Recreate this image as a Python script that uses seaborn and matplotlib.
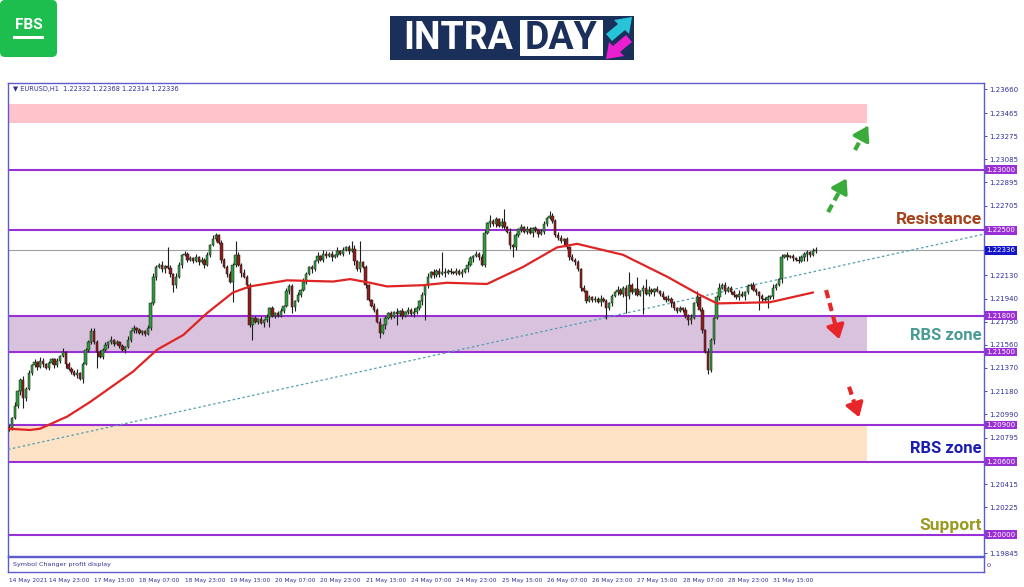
import numpy as np
import pandas as pd
import matplotlib
matplotlib.use("Agg")
import matplotlib.pyplot as plt
import seaborn as sns
from matplotlib.patches import FancyBboxPatch, Rectangle, Polygon

# EURUSD H1 closes, in pips above 1.2000 (one value per bar)
close_pips = [
    88, 96, 106, 118, 127, 112, 120, 133, 139, 142, 138, 143, 140, 137, 141, 144,
    139, 143, 147, 150, 140, 136, 134, 131, 133, 128, 140, 152, 158, 167, 158, 150,
    146, 152, 156, 158, 160, 157, 158, 155, 152, 154, 160, 167, 170, 168, 166, 167,
    165, 170, 190, 212, 220, 222, 218, 221, 219, 214, 205, 212, 222, 230, 231, 226,
    227, 225, 228, 224, 226, 222, 230, 238, 243, 246, 240, 226, 220, 214, 208, 222,
    230, 222, 215, 212, 205, 172, 178, 175, 177, 174, 176, 179, 186, 180, 182, 180,
    184, 188, 200, 204, 187, 192, 197, 201, 208, 214, 220, 218, 225, 229, 226, 231,
    229, 231, 228, 230, 233, 231, 234, 236, 233, 235, 225, 218, 224, 220, 205, 193,
    188, 185, 175, 166, 172, 178, 182, 179, 183, 181, 184, 180, 183, 185, 181, 183,
    186, 192, 197, 205, 212, 216, 213, 217, 214, 216, 215, 217, 216, 215, 217,
    214, 216, 218, 222, 227, 229, 231, 228, 222, 248, 256, 258, 255, 259, 254, 257,
    253, 249, 238, 236, 246, 251, 253, 249, 251, 248, 252, 250, 247, 249, 255, 260,
    262, 258, 246, 244, 241, 243, 236, 228, 226, 224, 218, 203, 200, 192, 195, 193,
    194, 191, 194, 192, 186, 190, 196, 199, 201, 198, 203, 196, 205, 199, 202, 197,
    200, 203, 198, 201, 199, 202, 200, 198, 195, 193, 194, 190, 186, 184, 186, 185,
    180, 176, 178, 190, 195, 185, 168, 150, 135, 160, 178, 195, 203, 205, 200, 203,
    199, 197, 195, 198, 196, 199, 204, 205, 201, 199, 196, 194, 193, 195, 196, 203,
    205, 210, 228, 230, 228, 229, 227, 226, 225, 228, 231, 232, 230, 233.2, 233.6,
]
first_open_pips = 86

# ordinary wick lengths in pips (one digit per bar)
wick_hi = "".join([
    "2131231212132121", "1213122131212132", "2121312121312121", "1213213123132121",
    "2131212132121231", "1213121213121212", "2131212132121313", "2121312121312121",
    "1213121213121213", "212131212131212", "1213212132121213", "2131212132121231",
    "1213212131212121", "2131212132121213", "1213212121312121", "2131212132121231",
    "1213212132121213", "213121213212123",
])
wick_lo = "".join([
    "1212312121312121", "2121312121312112", "1213121213121212", "2121312312121312",
    "1212131212131212", "2131212121312121", "1212131212131212", "2131212121312121",
    "1212131212131212", "213121212131212", "1212131212131212", "2131212121312121",
    "1212131212131212", "2131212121312121", "1212131212131212", "2131212121312121",
    "1212131212131212", "213121212131212",
])

# long shadows (bar index -> extreme, pips above 1.2000)
spike_hi = {29: 170, 56: 236, 73: 248, 80: 241, 99: 206, 121: 241, 124: 241,
            153: 232, 170: 263, 175: 268, 191: 266, 219: 216, 222: 212,
            225: 210, 243: 200, 251: 207, 262: 207, 285: 236.8}
spike_lo = {0: 85, 5: 104, 31: 137, 58: 199, 79: 191, 86: 160, 92: 171,
            100: 182, 131: 162, 137: 172, 147: 176, 178: 228, 211: 177,
            218: 182, 224: 181, 240: 172, 247: 132, 265: 185, 268: 186,
            279: 225, 282: 225, 285: 231.4}

# red moving average, read at bar positions
ma_idx = [-0.4, 7.4, 10.9, 20.5, 28.6, 43.8, 52.3, 61.5, 69.9, 79.1, 85.1, 98.2,
          114.5, 120.5, 127.5, 133.5, 146.3, 154.7, 168.9, 181.6, 193.6, 200.7,
          216.9, 232.5, 244.1, 250.2, 268.9, 284.1]
ma_val = [1.2087, 1.2086, 1.2087, 1.2097, 1.2109, 1.2134, 1.2152, 1.2164, 1.2182,
          1.2199, 1.2204, 1.2209, 1.2208, 1.2210, 1.2207, 1.2204, 1.2205, 1.2207,
          1.2206, 1.2220, 1.2236, 1.2239, 1.2230, 1.2212, 1.2197, 1.2190, 1.2191,
          1.2199]

# dotted trend line
trend_idx = [-0.4, 344.5]
trend_val = [1.2070, 1.2247]

time_idx = [0] + list(range(14, 271, 16))
time_labels = ["14 May 2021", "14 May 23:00", "17 May 15:00", "18 May 07:00",
               "18 May 23:00", "19 May 15:00", "20 May 07:00", "20 May 23:00",
               "21 May 15:00", "24 May 07:00", "24 May 23:00", "25 May 15:00",
               "26 May 07:00", "26 May 23:00", "27 May 15:00", "28 May 07:00",
               "28 May 23:00", "31 May 15:00"]

price_ticks = [1.23660, 1.23465, 1.23275, 1.23085, 1.22895, 1.22705, 1.22130,
               1.21940, 1.21750, 1.21560, 1.21370, 1.21180, 1.20990, 1.20795,
               1.20415, 1.20225, 1.19845]
levels = [1.23000, 1.22500, 1.21800, 1.21500, 1.20900, 1.20600, 1.20000]
last_price = 1.22336

zone_lo = [1.23385, 1.21500, 1.20600]
zone_hi = [1.23540, 1.21800, 1.20900]
zone_colors = ["#ffc3cc", "#d9c2dd", "#fde2c6"]

# ---------------------------------------------------------------
close = 1.2 + np.array(close_pips) / 1e4
opn = np.r_[1.2 + first_open_pips / 1e4, close[:-1]]
high = np.maximum(opn, close) + np.array([int(c) for c in wick_hi]) / 1e4
low = np.minimum(opn, close) - np.array([int(c) for c in wick_lo]) / 1e4
for i, v in spike_hi.items():
    high[i] = max(high[i], 1.2 + v / 1e4)
for i, v in spike_lo.items():
    low[i] = min(low[i], 1.2 + v / 1e4)
df = pd.DataFrame({"open": opn, "high": high, "low": low, "close": close})
df["idx"] = np.arange(len(df))

sns.set_style("white")
plt.rcParams["font.family"] = ["DejaVu Sans"]

FRAME = "#5c5cd0"
LEVEL = "#9a2fd6"
TXT = "#30309a"

fig = plt.figure(figsize=(10.24, 5.87), dpi=100)
ax = fig.add_axes([8 / 1024, 1 - 556 / 587, 976 / 1024, 473 / 587])
x_lo, x_hi = -0.4, 344.5
zone_end = 303.1

for lo, hi, c in zip(zone_lo, zone_hi, zone_colors):
    ax.fill_between([x_lo, zone_end], lo, hi, color=c, lw=0, zorder=1)
for lv in levels:
    ax.axhline(lv, color=LEVEL, lw=1.5, zorder=2)
ax.axhline(last_price, color="#a0a0a0", lw=0.8, zorder=2)

sns.lineplot(x=trend_idx, y=trend_val, ax=ax, color="#4f9fb0", lw=0.9,
             linestyle=(0, (2, 2)), zorder=3)

up = df["close"] >= df["open"]
body_lo = np.minimum(df["open"], df["close"])
body_h = np.maximum((df["close"] - df["open"]).abs(), 0.00002)
ax.vlines(df["idx"], df["low"], df["high"], color="#1e1e1e", lw=0.8, zorder=4)
ax.bar(df["idx"], body_h, bottom=body_lo, width=0.85,
       color=np.where(up, "#2f9a3a", "#8e1c1c"), edgecolor="#1e1e1e",
       linewidth=0.35, zorder=5)

sns.lineplot(x=ma_idx, y=ma_val, ax=ax, color="#e02424", lw=1.6, zorder=6)

# dashed direction arrows
arrows = [((289.4, 1.22651), (296.4, 1.22947), "#3aaa3a"),
          ((298.9, 1.23161), (304.0, 1.23380), "#3aaa3a"),
          ((288.7, 1.22010), (293.6, 1.21583), "#e8262a"),
          ((296.8, 1.21215), (300.7, 1.20942), "#e8262a")]
for (x0, y0), (x1, y1), c in arrows:
    xm, ym = x0 + 0.7 * (x1 - x0), y0 + 0.7 * (y1 - y0)
    ax.plot([x0, xm], [y0, ym], color=c, lw=3, linestyle=(0, (2, 1.2)),
            solid_capstyle="butt", zorder=7)
    ax.annotate("", xy=(x1, y1), xytext=(xm, ym),
                arrowprops=dict(arrowstyle="-|>,head_width=0.45,head_length=0.7",
                                color=c, lw=2.5, mutation_scale=12), zorder=7)

lab_x = 343.8
lab_font = ["Roboto", "DejaVu Sans"]
ax.text(lab_x, 1.22592, "Resistance", ha="right", va="center", fontsize=12.5,
        fontweight="bold", color="#a5421a", family=lab_font, zorder=8)
ax.text(lab_x, 1.21640, "RBS zone", ha="right", va="center", fontsize=12,
        fontweight="bold", color="#4a9a95", family=lab_font, zorder=8)
ax.text(lab_x, 1.20711, "RBS zone", ha="right", va="center", fontsize=12,
        fontweight="bold", color="#1c1cb4", family=lab_font, zorder=8)
ax.text(lab_x, 1.20078, "Support", ha="right", va="center", fontsize=12.5,
        fontweight="bold", color="#9a9a20", family=lab_font, zorder=8)

ax.text(0.005, 0.987, "\u25bc EURUSD,H1  1.22332 1.22368 1.22314 1.22336",
        transform=ax.transAxes, fontsize=4.8, color=TXT, va="center")

ax.set_xlim(x_lo, x_hi)
ax.set_ylim(1.19824, 1.23712)
ax.set_xticks([])
ax.yaxis.tick_right()
ax.set_yticks(price_ticks)
ax.set_yticklabels([f"{p:.5f}" for p in price_ticks])
ax.tick_params(axis="y", labelsize=5, colors=TXT, length=2, width=0.6, pad=1.5,
               right=True, left=False)
ax.set_xlabel("")
ax.set_ylabel("")
for s in ax.spines.values():
    s.set_color(FRAME)
    s.set_linewidth(1.0)

ytr = ax.get_yaxis_transform()
for lv in levels:
    ax.text(1.0025, lv, f"{lv:.5f}", transform=ytr, fontsize=5, color="white",
            va="center", ha="left", zorder=9,
            bbox=dict(boxstyle="square,pad=0.18", fc=LEVEL, ec="none"))
ax.text(1.0025, last_price, f"{last_price:.5f}", transform=ytr, fontsize=5,
        color="white", va="center", ha="left", zorder=9,
        bbox=dict(boxstyle="square,pad=0.18", fc="#1414c8", ec="none"))

# lower indicator pane with time axis
ax2 = fig.add_axes([8 / 1024, 1 - 572 / 587, 976 / 1024, 15 / 587])
ax2.set_xlim(x_lo, x_hi)
ax2.set_ylim(0, 1)
ax2.set_yticks([])
ax2.set_xticks(time_idx)
ax2.set_xticklabels(time_labels)
for lab in ax2.get_xticklabels():
    lab.set_ha("left")
ax2.tick_params(axis="x", labelsize=4.2, colors=TXT, length=3, width=0.6, pad=1)
for s in ax2.spines.values():
    s.set_color(FRAME)
    s.set_linewidth(1.0)
ax2.text(0.005, 0.5, "Symbol Changer profit display", transform=ax2.transAxes,
         fontsize=4.6, color=TXT, va="center")
ax2.text(1.004, 0.5, "0", transform=ax2.transAxes, fontsize=4.5, color=TXT,
         va="center", rotation=90)

# logos
lg = fig.add_axes([0, 0, 1, 1], zorder=10)
lg.set_xlim(0, 1024)
lg.set_ylim(587, 0)
lg.axis("off")
lg.add_patch(FancyBboxPatch((0, 0), 57, 57, boxstyle="round,pad=0,rounding_size=5",
                            fc="#1ebe4e", ec="none"))
lg.text(28.5, 25, "FBS", color="white", fontsize=11, fontweight="bold",
        ha="center", va="center", family=["Roboto", "DejaVu Sans"])
lg.add_patch(Rectangle((13, 36), 31, 2.5, fc="white", ec="none"))

lg.add_patch(Rectangle((390, 16), 244, 44, fc="#1b2f5b", ec="none"))
lg.add_patch(Rectangle((520, 20), 83, 36, fc="white", ec="none"))
lg.text(458, 38.5, "INTRA", color="white", fontsize=27, fontweight="bold",
        ha="center", va="center", family=["Liberation Sans Narrow", "Roboto"])
lg.text(561.5, 38.5, "DAY", color="#1b2f5b", fontsize=27, fontweight="bold",
        ha="center", va="center", family=["Liberation Sans Narrow", "Roboto"])
lg.add_patch(Polygon([(606, 34), (618, 24), (614, 20), (632, 17), (629, 34),
                      (625, 30), (612, 41)], closed=True, fc="#27c4d8", ec="none"))
lg.add_patch(Polygon([(632, 42), (620, 52), (624, 56), (606, 59), (609, 42),
                      (613, 46), (626, 35)], closed=True, fc="#ea1fcf", ec="none"))

fig.savefig("out.png", dpi=100)
